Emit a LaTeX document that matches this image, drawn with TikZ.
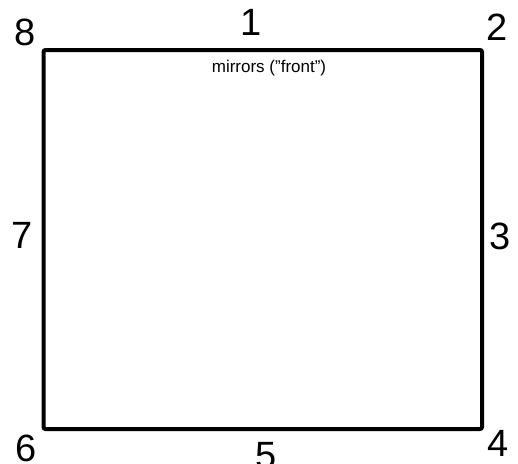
\documentclass[tikz,border=0pt]{standalone}
\usepackage{fontspec}
\setmainfont{Liberation Sans}
\tikzset{
  wall/.style={line width=4pt, rounded corners=2pt},
  numlab/.style={font=\fontsize{38}{38}\selectfont, inner sep=0pt},
  notelab/.style={font=\fontsize{17}{17}\selectfont, inner sep=0pt},
}

\begin{document}
\begin{tikzpicture}[x=1pt,y=-1pt]
\useasboundingbox (0,0) rectangle (518,463);

% corners of the room
\coordinate (cNW) at (43.5,50);
\coordinate (cNE) at (482,50);
\coordinate (cSE) at (482,429);
\coordinate (cSW) at (43.5,429);
\draw[wall] (cNW) -- (cNE) -- (cSE) -- (cSW) -- cycle;

% position numbers
\node[numlab] (p1) at (251,22) {1};
\node[numlab] (p2) at (497,27) {2};
\node[numlab] (p3) at (500,236) {3};
\node[numlab] (p4) at (498,443) {4};
\node[numlab] (p5) at (266,456) {5};
\node[numlab] (p6) at (26,448) {6};
\node[numlab] (p7) at (22,235) {7};
\node[numlab] (p8) at (25,32) {8};

% note on the front wall
\node[notelab, anchor=base] (front) at (269,72) {mirrors (”front”)};
\end{tikzpicture}
\end{document}
